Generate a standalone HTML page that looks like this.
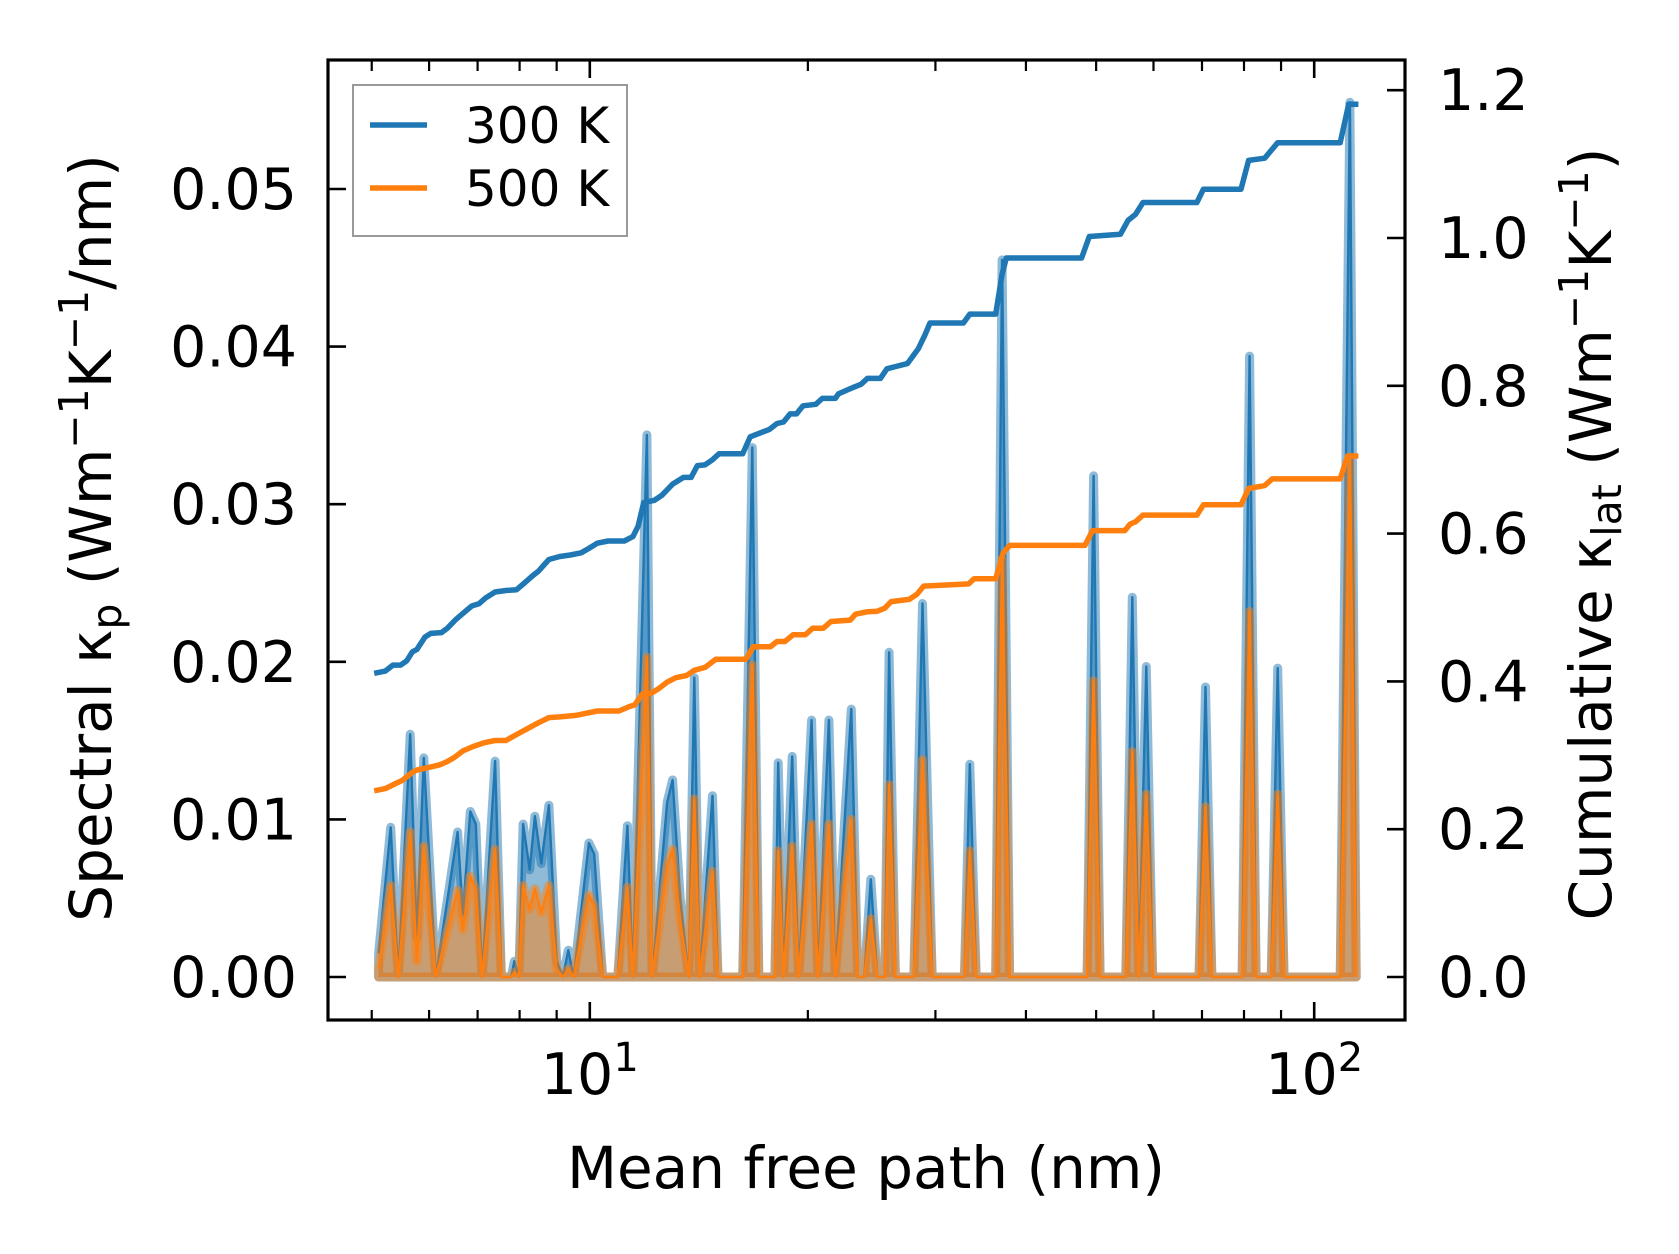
<!DOCTYPE html>
<html><head><meta charset="utf-8"><style>
html,body{margin:0;padding:0;background:#fff;}
svg{display:block;font-family:"DejaVu Sans","Liberation Sans",sans-serif;}
</style></head><body>
<svg id="chart" width="1679" height="1254" viewBox="0 0 1679 1254" xmlns="http://www.w3.org/2000/svg">
<rect width="1679" height="1254" fill="#fff"/>
<g id="plot"></g>
<g id="axes"></g>
</svg>
<script>
// spectral data (mfp nm, kappa_p 300K, kappa_p 500K)
const specX = [5.11,5.31,5.44,5.65,5.77,5.90,6.13,6.57,6.68,6.84,6.96,7.10,7.40,7.55,7.79,7.87,7.98,8.09,8.26,8.40,8.57,8.78,9.00,9.18,9.34,9.50,9.97,10.14,10.42,10.93,11.27,11.47,11.99,12.19,12.79,13.01,13.33,13.70,13.94,14.18,14.77,15.03,16.26,16.76,17.11,18.01,18.20,18.51,19.03,19.42,20.24,20.65,21.38,21.82,22.96,23.44,23.93,24.43,24.94,25.54,25.89,26.42,28.01,28.79,29.69,32.89,33.46,34.15,36.33,37.08,37.98,48.59,49.60,50.63,54.95,56.09,57.25,58.64,59.85,69.34,70.78,72.24,79.51,81.44,83.14,87.22,89.04,90.87,108.6,112.0,114.3];
const spec300 = [0.0015,0.0095,0,0.0154,0.0025,0.0139,0,0.0092,0.0040,0.0105,0.0097,0,0.0137,0,0,0.0010,0,0.0097,0.0068,0.0102,0.0072,0.0109,0.0010,0,0.0017,0,0.0085,0.0078,0,0,0.0096,0,0.0344,0,0.0111,0.0125,0.0050,0,0.0190,0,0.0115,0,0,0.0336,0,0,0.0136,0,0.0140,0,0.0163,0,0.0163,0,0.0170,0,0,0.0062,0,0,0.0206,0,0,0.0237,0,0,0.0135,0,0,0.0455,0,0,0.0318,0,0,0.0241,0,0.0197,0,0,0.0184,0,0,0.0394,0,0,0.0196,0,0,0.0555,0];
const spec500 = [0.0005,0.0058,0,0.0092,0.0010,0.0083,0,0.0055,0.0030,0.0064,0.0055,0,0.0081,0,0,0.0003,0,0.0058,0.0043,0.0056,0.0041,0.0058,0.0005,0,0.0005,0,0.0052,0.0045,0,0,0.0057,0,0.0203,0,0.0071,0.0081,0.0035,0,0.0113,0,0.0067,0,0,0.0198,0,0,0.0080,0,0.0083,0,0.0097,0,0.0097,0,0.0100,0,0,0.0037,0,0,0.0122,0,0,0.0138,0,0,0.0080,0,0,0.0265,0,0,0.0188,0,0,0.0143,0,0.0116,0,0,0.0108,0,0,0.0232,0,0,0.0116,0,0,0.0330,0];
// cumulative data
const cumX300 = [5.04,5.22,5.35,5.48,5.59,5.69,5.77,5.92,6.03,6.24,6.36,6.52,6.68,6.87,7.03,7.18,7.40,7.66,7.92,8.12,8.34,8.49,8.78,9.09,9.40,9.73,9.97,10.24,10.60,11.16,11.47,11.66,11.87,12.28,12.58,13.01,13.47,13.80,14.08,14.42,14.77,15.08,16.26,16.65,17.70,18.13,18.51,18.90,19.29,19.69,20.51,20.94,21.82,22.04,22.74,23.12,23.68,24.17,25.19,25.71,26.42,27.44,28.40,28.99,29.49,32.79,33.46,36.33,37.08,37.58,47.75,48.93,54.01,55.34,56.67,58.03,68.87,70.31,79.25,81.18,85.44,89.04,108.6,111.6,115.1];
const cum300 = [.411,.414,.422,.422,.428,.440,.443,.460,.465,.466,.472,.483,.492,.502,.505,.513,.521,.523,.524,.533,.543,.549,.565,.569,.571,.574,.580,.587,.590,.590,.596,.610,.642,.645,.652,.667,.676,.676,.692,.693,.700,.708,.708,.731,.741,.749,.751,.762,.762,.773,.775,.783,.783,.789,.795,.798,.802,.810,.810,.823,.826,.830,.850,.868,.885,.885,.897,.897,.951,.973,.973,1.002,1.005,1.024,1.032,1.048,1.048,1.066,1.066,1.105,1.108,1.129,1.129,1.181,1.181];
const cumX500 = [5.04,5.22,5.40,5.51,5.69,5.77,5.95,6.20,6.34,6.50,6.68,6.91,7.15,7.40,7.66,7.92,8.20,8.49,8.78,9.09,9.56,9.90,10.24,10.97,11.35,11.53,11.82,12.15,12.44,12.79,13.15,13.60,13.94,14.42,14.93,16.43,16.82,17.76,18.13,18.59,19.08,19.84,20.31,21.01,21.52,22.88,23.27,24.09,24.94,25.54,26.06,27.60,28.29,28.89,33.35,33.92,36.33,37.21,37.98,48.25,49.43,54.77,55.71,56.67,58.03,68.87,70.31,79.25,81.18,85.44,87.50,108.6,111.2,115.1];
const cum500 = [.252,.255,.262,.266,.277,.280,.283,.287,.291,.297,.306,.312,.317,.320,.320,.328,.336,.344,.351,.352,.354,.357,.360,.360,.366,.368,.383,.384,.390,.399,.405,.408,.415,.419,.430,.430,.447,.447,.454,.454,.463,.463,.472,.472,.481,.483,.491,.494,.495,.499,.508,.511,.518,.529,.532,.539,.539,.574,.584,.584,.604,.604,.613,.616,.625,.625,.639,.639,.661,.665,.674,.674,.705,.705];
const leftTicks = [0,0.01,0.02,0.03,0.04,0.05];
const leftTickLabels = ["0.00","0.01","0.02","0.03","0.04","0.05"];
const rightTicks = [0,0.2,0.4,0.6,0.8,1.0,1.2];
const rightTickLabels = ["0.0","0.2","0.4","0.6","0.8","1.0","1.2"];

const NS="http://www.w3.org/2000/svg";
const L=328,R=1405,T=60,B=1020;
function xS(v){return 589.8+(Math.log10(v)-1)*724.4;}
function yL(v){return 977-v*15760;}
function yR(v){return 977-v*739;}
function mk(tag,attrs,parent){const e=document.createElementNS(NS,tag);for(const k in attrs)e.setAttribute(k,attrs[k]);parent.appendChild(e);return e;}
const plot=document.getElementById('plot'), axes=document.getElementById('axes');

function spectral(vals,color,name){
  let d='M'+xS(specX[0])+','+yL(0);
  specX.forEach((x,i)=>{d+=' L'+xS(x).toFixed(1)+','+yL(vals[i]).toFixed(1);});
  d+=' L'+xS(specX[specX.length-1])+','+yL(0)+' Z';
  const f=mk('path',{d:d,fill:color,'fill-opacity':0.5,stroke:color,'stroke-opacity':0.5,'stroke-width':9,'stroke-linejoin':'round'},plot);
  
  
  let ld='';
  specX.forEach((x,i)=>{ld+=(i?' L':'M')+xS(x).toFixed(1)+','+yL(vals[i]).toFixed(1);});
  const l=mk('path',{d:ld,fill:'none',stroke:color,'stroke-width':2.4,'stroke-linejoin':'round'},plot);
  
  
}
spectral(spec300,'#1f77b4','spectral-300k');
spectral(spec500,'#ff7f0e','spectral-500k');

function cum(xs,vals,color,name){
  let d='';xs.forEach((x,i)=>{d+=(i?' L':'M')+xS(x).toFixed(1)+','+yR(vals[i]).toFixed(1);});
  const p=mk('path',{d:d,fill:'none',stroke:color,'stroke-width':5.5,'stroke-linejoin':'round'},plot);
  
  
}
cum(cumX300,cum300,'#1f77b4','cumulative-300k');
cum(cumX500,cum500,'#ff7f0e','cumulative-500k');

// frame
const fr=mk('rect',{x:L,y:T,width:R-L,height:B-T,fill:'none',stroke:'#000','stroke-width':3.2},axes);



const majors=[10,100];
const minors=[5,6,7,8,9,20,30,40,50,60,70,80,90];
majors.forEach(v=>{const x=xS(v);
  mk('line',{x1:x,x2:x,y1:B,y2:B-18,stroke:'#000','stroke-width':2.6},axes);
  mk('line',{x1:x,x2:x,y1:T,y2:T+18,stroke:'#000','stroke-width':2.6},axes);
  const t=mk('text',{x:x,y:1094,'font-size':57,'text-anchor':'middle'},axes);
  
  
  t.appendChild(document.createTextNode('10'));
  const s=mk('tspan',{dy:-23,'font-size':40},t);s.textContent=v===10?'1':'2';
});
minors.forEach(v=>{const x=xS(v);
  mk('line',{x1:x,x2:x,y1:B,y2:B-10,stroke:'#000','stroke-width':2.2},axes);
  mk('line',{x1:x,x2:x,y1:T,y2:T+11,stroke:'#000','stroke-width':2.2},axes);
});
leftTicks.forEach((v,i)=>{const y=yL(v);
  mk('line',{x1:L,x2:L+18,y1:y,y2:y,stroke:'#000','stroke-width':2.6},axes);
  const t=mk('text',{x:297,y:y+20,'font-size':57,'text-anchor':'end'},axes);
  
  
  t.textContent=leftTickLabels[i];
});
rightTicks.forEach((v,i)=>{const y=yR(v);
  mk('line',{x1:R,x2:R-18,y1:y,y2:y,stroke:'#000','stroke-width':2.6},axes);
  const t=mk('text',{x:1438,y:y+20,'font-size':57,'text-anchor':'start'},axes);
  
  
  t.textContent=rightTickLabels[i];
});
</script>
<svg style="position:absolute;left:0;top:0" width="1679" height="1254">
<g font-family="DejaVu Sans, Liberation Sans, sans-serif">
<text x="866" y="1188" font-size="58" text-anchor="middle">Mean free path (nm)</text>
<text transform="translate(111,538) rotate(-90)" font-size="58" text-anchor="middle">Spectral κ<tspan font-size="41" dy="10">p</tspan><tspan dy="-10"> (Wm</tspan><tspan font-size="41" dy="-23">−1</tspan><tspan dy="23">K</tspan><tspan font-size="41" dy="-23">−1</tspan><tspan dy="23">/nm)</tspan></text>
<text transform="translate(1611,534) rotate(-90)" font-size="58" text-anchor="middle">Cumulative κ<tspan font-size="41" dy="10">lat</tspan><tspan dy="-10"> (Wm</tspan><tspan font-size="41" dy="-23">−1</tspan><tspan dy="23">K</tspan><tspan font-size="41" dy="-23">−1</tspan><tspan dy="23">)</tspan></text>
<g>
<rect x="353" y="85" width="274" height="151" fill="#fff" fill-opacity="0.8" stroke="#999" stroke-width="2"/>
<line x1="370" x2="427" y1="125" y2="125" stroke="#1f77b4" stroke-width="5.5"/>
<text x="465" y="143" font-size="50">300 K</text>
<line x1="370" x2="427" y1="188" y2="188" stroke="#ff7f0e" stroke-width="5.5"/>
<text x="465" y="206" font-size="50">500 K</text>
</g>
</g>
</svg>
</body></html>
